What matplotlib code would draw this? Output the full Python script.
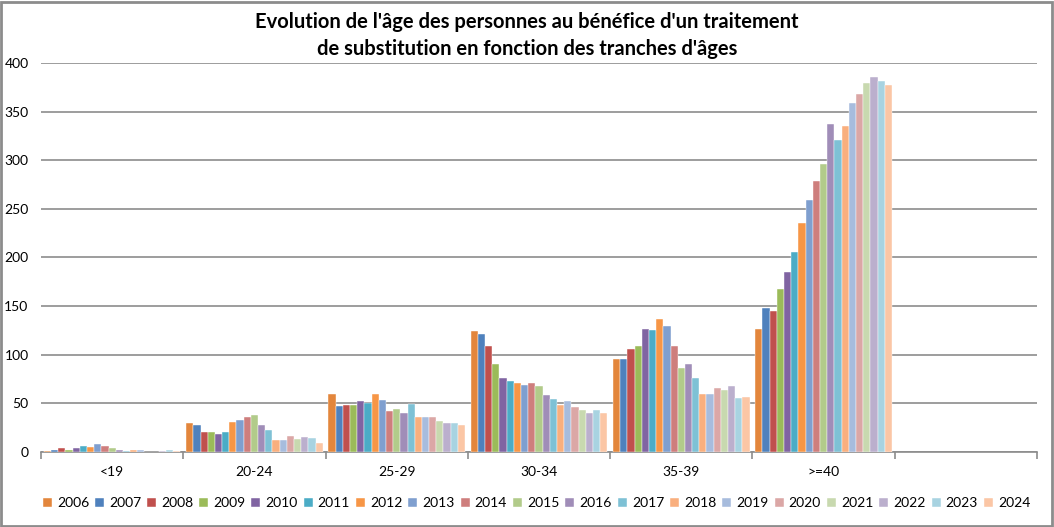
import numpy as np
import matplotlib.pyplot as plt
from matplotlib.patches import Rectangle

plt.rcParams['font.family'] = ['Lato', 'DejaVu Sans']

# categories (last slot is empty in the original chart)
categories = ['<19', '20-24', '25-29', '30-34', '35-39', '>=40', '']
years = [str(y) for y in range(2006, 2025)]

# values per year for <19, 20-24, 25-29, 30-34, 35-39, >=40
v2006 = [1.5, 29.5, 59.5, 124, 96, 126]
v2007 = [2.5, 27.5, 47, 121, 96, 148]
v2008 = [4.5, 21, 48.5, 109, 106, 145]
v2009 = [2, 21, 48.5, 90.5, 109, 167.5]
v2010 = [4.5, 19, 52, 76.5, 126.5, 185]
v2011 = [6, 21, 50.5, 73, 125.5, 205.5]
v2012 = [5, 30.5, 59.5, 70.5, 136.5, 235]
v2013 = [8, 33, 53.5, 69, 130, 259.5]
v2014 = [6, 35.5, 42, 70.5, 109.5, 279]
v2015 = [4, 38, 44, 67.5, 86, 296.5]
v2016 = [2, 28, 40, 59, 90, 337]
v2017 = [1, 22.5, 49.5, 55, 76, 321]
v2018 = [2, 12, 36.5, 48, 59.5, 335.5]
v2019 = [2.5, 12, 36.5, 52, 59.5, 358.5]
v2020 = [0, 16, 36, 46.5, 66, 368]
v2021 = [0, 13.5, 31.5, 43, 64, 379]
v2022 = [1, 15, 30, 40, 67.5, 385.5]
v2023 = [2, 14, 29.5, 43, 56, 381.5]
v2024 = [1, 9, 28, 40, 56.5, 377.5]

series = [v2006, v2007, v2008, v2009, v2010, v2011, v2012, v2013, v2014, v2015,
          v2016, v2017, v2018, v2019, v2020, v2021, v2022, v2023, v2024]

colors = ['#E3863C', '#4F81BD', '#C0504D', '#9BBB59', '#8064A2', '#4BACC6',
          '#F79646', '#7F9FCF', '#CE7E7D', '#B2CB8A', '#A08DB8', '#7EC1D5',
          '#F9AF7E', '#A7BCDD', '#DBA7A6', '#C8D9AF', '#BBAFCD', '#A8D3E1',
          '#FBC6A5']

fig = plt.figure(figsize=(10.54, 5.27), dpi=100)
ax = fig.add_axes([0.0389, 0.1423, 0.945, 0.7382])

n = len(series)
group_w = 0.96
bw = group_w / n
x = np.arange(len(categories))
for i, vals in enumerate(series):
    pos = x[:len(vals)] - group_w / 2 + bw * (i + 0.5)
    ax.bar(pos, vals, width=bw, color=colors[i], label=years[i],
           edgecolor='white', linewidth=0.3, zorder=3)

ax.set_xlim(-0.5, len(categories) - 0.5)
ax.set_ylim(0, 400)
ax.set_yticks(np.arange(0, 401, 50))
ax.yaxis.grid(True, color='#8c8c8c', linewidth=1.2, zorder=0)
ax.tick_params(axis='y', length=0, labelsize=10, pad=9, colors='black')

ax.set_xticks(x)
ax.set_xticklabels(categories)
ax.set_xticks(np.arange(-0.5, len(categories)), minor=True)
ax.tick_params(axis='x', which='major', length=0, labelsize=10, pad=10)
ax.tick_params(axis='x', which='minor', length=5, width=1.2, color='#8c8c8c')

for s in ['top', 'right', 'left']:
    ax.spines[s].set_visible(False)
ax.spines['bottom'].set_color('#8c8c8c')
ax.spines['bottom'].set_linewidth(1.2)

fig.text(0.5, 0.978, "Evolution de l'âge des personnes au bénéfice d'un traitement\n"
         "de substitution en fonction des tranches d'âges",
         ha='center', va='top', fontsize=14.5, fontweight='bold', linespacing=1.45)

leg = fig.legend(loc='center', bbox_to_anchor=(0.509, 0.0455), ncol=19, frameon=False,
                 fontsize=10, handlelength=0.65, handleheight=0.65, handletextpad=0.36,
                 columnspacing=0.43, borderpad=0, borderaxespad=0)

fig.patches.append(Rectangle((0.001, 0.002), 0.997, 0.995, transform=fig.transFigure,
                             fill=False, edgecolor='#8c8c8c', linewidth=2))

fig.savefig('out.png', dpi=100)
